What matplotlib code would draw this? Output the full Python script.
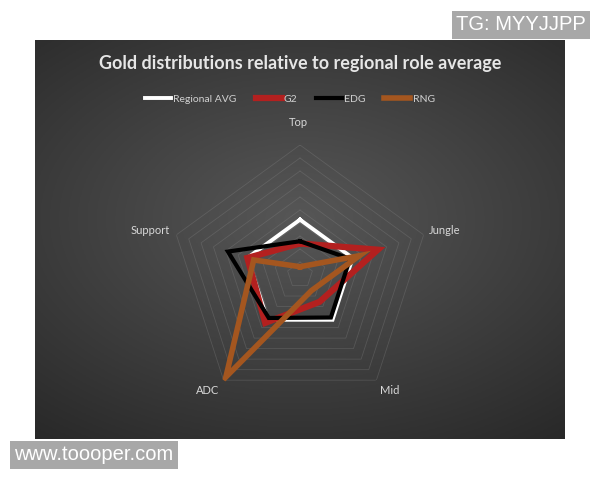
import numpy as np
import matplotlib
matplotlib.use("Agg")
import matplotlib.pyplot as plt

# roles, clockwise from the top
roles = ["Top", "Jungle", "Mid", "ADC", "Support"]

# gold share relative to regional role average (regional avg = 1)
regional_avg = [1.0, 1.0, 1.0, 1.0, 1.0]
g2 = [0.57, 1.48, 0.60, 1.07, 1.00]
edg = [0.61, 0.95, 0.95, 0.96, 1.37]
rng = [0.15, 1.13, 0.35, 2.28, 0.88]

series_names = ["Regional AVG", "G2", "EDG", "RNG"]
series_vals = [regional_avg, g2, edg, rng]
series_cols = ["#ffffff", "#b3201f", "#000000", "#a4561f"]
series_lw = [2.8, 4.5, 3, 4]

fig = plt.figure(figsize=(6, 4.8), dpi=100)
fig.patch.set_facecolor("white")

# dark panel with a soft radial gradient
bg = fig.add_axes([35/600, 1-439/480, 530/600, 399/480])
yy, xx = np.mgrid[-1:1:200j, -1:1:260j]
dist = np.sqrt((xx*0.85)**2 + ((yy+0.1)*1.0)**2)
shade = np.clip(0.34 - 0.13*dist, 0.16, 0.4)
bg.imshow(np.dstack([shade]*3), aspect="auto", extent=[0, 1, 0, 1])
bg.set_axis_off()

ax = fig.add_axes([170/600, 1-405/480, 260/600, 260/480], projection="polar")
ax.set_facecolor("none")
ax.set_theta_offset(np.pi/2)
ax.set_theta_direction(-1)

angles = np.linspace(0, 2*np.pi, len(roles), endpoint=False)
rmax = 2.35
ax.set_ylim(0, rmax)
ax.spines["polar"].set_visible(False)
ax.xaxis.grid(False)
ax.set_yticks([])
ax.set_xticks([])

# pentagon grid rings
for k in range(1, 11):
    r = rmax*k/10
    ax.plot(np.append(angles, angles[0]), [r]*6, color="#8a8a8a", lw=0.6, alpha=0.3, zorder=1)

for name, vals, col, lw in zip(series_names, series_vals, series_cols, series_lw):
    v = np.append(vals, vals[0])
    ax.plot(np.append(angles, angles[0]), v, color=col, lw=lw, label=name, zorder=3,
            solid_joinstyle="miter")

# role labels
label_pos = {"Top": (298, 123), "Jungle": (445, 230), "Mid": (390, 390),
             "ADC": (208, 390), "Support": (150, 230)}
for role in roles:
    x, y = label_pos[role]
    fig.text(x/600, 1-y/480, role, color="#d8d8d8", fontsize=8, family="Lato",
             ha="center", va="center")

fig.text(300/600, 1-64/480, "Gold distributions relative to regional role average",
         color="#e6e6e6", fontsize=13, fontweight="bold", family="Lato",
         ha="center", va="center")

leg = fig.legend(loc="center", bbox_to_anchor=(290/600, 1-99/480), ncol=4, frameon=False,
                 fontsize=7.5, handlelength=2.5, handletextpad=0.2, columnspacing=1.8)
for t in leg.get_texts():
    t.set_color("#d0d0d0")
    t.set_family("Lato")

# watermarks
fig.text(14/600, 1-455/480, "www.toooper.com", color="white", fontsize=14.5,
         ha="left", va="center", family="Liberation Sans",
         bbox=dict(boxstyle="square,pad=0.22", fc="#a8a8a8", ec="none"))
fig.text(456/600, 1-25/480, "TG: MYYJJPP", color="white", fontsize=14.5,
         ha="left", va="center", family="Liberation Sans",
         bbox=dict(boxstyle="square,pad=0.22", fc="#a8a8a8", ec="none"))

fig.savefig("out.png", dpi=100, facecolor="white")
